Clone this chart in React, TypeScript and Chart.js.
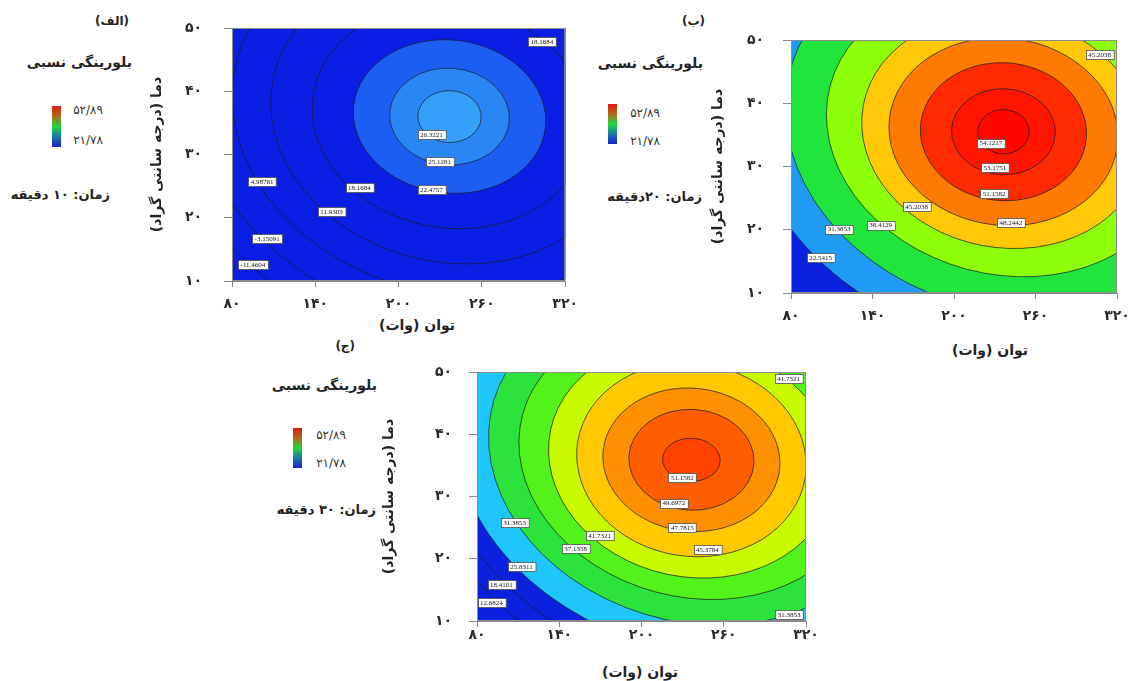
import React, { useEffect, useRef } from 'react';
import { Chart, registerables } from 'chart.js';

Chart.register(...registerables);

// ---------- shared axis data ----------
const POWER_TICKS = [80, 140, 200, 260, 320];
const POWER_LABELS = ['۸۰', '۱۴۰', '۲۰۰', '۲۶۰', '۳۲۰'];
const TEMP_TICKS = [10, 20, 30, 40, 50];
const TEMP_LABELS = ['۱۰', '۲۰', '۳۰', '۴۰', '۵۰'];
const COLORBAR_MAX = '۵۲/۸۹';
const COLORBAR_MIN = '۲۱/۷۸';
const X_TITLE = 'توان (وات)';
const Y_TITLE = 'دما (درجه سانتی گراد)';
const LEGEND_TITLE = 'بلورینگی نسبی';

// ---------- panel A (10 min) ----------
const A_CENTER_POWER = 236.7;
const A_CENTER_TEMP = 36.0;
const A_LEVELS = [-11.4604, -3.15091, 4.98761, 11.9303, 18.1684, 22.4757, 25.1281, 26.3221];
const A_SEMI_POWER = [212, 187, 158.5, 130, 99.5, 69.5, 43.2, 22.8];
const A_SEMI_TEMP = [36.9, 32.6, 27.8, 23.0, 17.6, 12.1, 7.65, 4.1];
const A_TILT = [19, 17, 15, 13, 10, 7, 4, 2];
const A_LABEL_POWER = [303.2, 223.7, 229.6, 223.7, 171.8, 151.7, 101.7, 105.3, 95.1];
const A_LABEL_TEMP = [47.8, 33.2, 28.9, 24.4, 24.8, 21.0, 25.7, 16.75, 12.6];
const A_LABEL_TEXT = ['18.1684', '26.3221', '25.1281', '22.4757', '18.1684', '11.9303', '4.98761', '-3.15091', '-11.4604'];

// ---------- panel B (20 min) ----------
const B_CENTER_POWER = 236.4;
const B_CENTER_TEMP = 35.5;
const B_LEVELS = [22.5415, 31.3853, 38.4129, 45.2038, 48.2442, 51.1582, 53.1751, 54.1217];
const B_SEMI_POWER = [195.5, 163.5, 132.0, 105.0, 84.5, 61.2, 38.2, 18.9];
const B_SEMI_TEMP = [33.3, 28.0, 22.5, 18.3, 14.8, 10.9, 6.8, 3.5];
const B_TILT = [20, 18, 15, 11, 7, 4, 2, 1];
const B_LABEL_POWER = [307.2, 227.1, 230.0, 229.5, 241.8, 172.4, 146.0, 115.5, 101.8];
const B_LABEL_TEMP = [47.7, 33.7, 29.8, 25.7, 21.2, 23.6, 20.75, 20.1, 15.6];
const B_LABEL_TEXT = ['45.2038', '54.1217', '53.1751', '51.1582', '48.2442', '45.2038', '38.4129', '31.3853', '22.5415'];

// ---------- panel C (30 min) ----------
const C_CENTER_POWER = 236.4;
const C_CENTER_TEMP = 35.9;
const C_LEVELS = [12.6824, 18.4101, 25.8311, 31.3853, 37.1358, 41.7321, 45.3784, 47.7815, 49.6972, 51.1582];
const C_SEMI_POWER = [211.6, 194.0, 176.8, 150.5, 127.5, 105.0, 84.0, 64.7, 45.7, 21.0];
const C_SEMI_TEMP = [36.4, 33.4, 30.3, 25.9, 22.0, 18.8, 15.5, 11.5, 8.1, 3.45];
const C_TILT = [21, 20, 19, 17, 15, 12, 9, 6, 3, 2];
const C_LABEL_POWER = [307.3, 229.8, 223.7, 229.8, 248.1, 169.5, 152.0, 107.5, 112.4, 97.8, 90.5, 307.6];
const C_LABEL_TEMP = [48.9, 33.1, 28.95, 25.0, 21.45, 23.75, 21.6, 25.8, 18.8, 15.8, 12.9, 11.0];
const C_LABEL_TEXT = ['41.7321', '51.1582', '49.6972', '47.7815', '45.3784', '41.7321', '37.1358', '31.3853', '25.8311', '18.4101', '12.6824', '31.3853'];

// ---------- styles ----------
const A_BASE = '#0b1fe4';
const A_BANDS = ['#0b1fe4', '#0b1fe4', '#0b1fe4', '#0b1fe4', '#0b1fe4', '#1c5ef2', '#2a86f4', '#34a0f7'];
const B_BASE = '#0a22de';
const B_BANDS = ['#1f9af5', '#21e53c', '#8dff0a', '#ffc806', '#ff7a00', '#ff2a00', '#ff1500', '#ff0800'];
const C_BASE = '#0a22dd';
const C_BANDS = ['#0a22dd', '#0a22dd', '#1ec6fb', '#2be33a', '#52f21a', '#c8fa00', '#ffc800', '#ff9000', '#ff5e00', '#ff4200'];

const FONT = '"DejaVu Sans", sans-serif';

type Panel = {
  id: string;
  centerPower: number;
  centerTemp: number;
  levels: number[];
  semiPower: number[];
  semiTemp: number[];
  tilt: number[];
  base: string;
  bands: string[];
  labelPower: number[];
  labelTemp: number[];
  labelText: string[];
  frame: { left: number; top: number; right: number; bottom: number };
  padRight: number;
  yWidth: number;
  xHeight: number;
  yTickPad: number;
  xTickPad: number;
  yTitlePad: number;
};

const PANELS: Panel[] = [
  {
    id: 'a', centerPower: A_CENTER_POWER, centerTemp: A_CENTER_TEMP, levels: A_LEVELS,
    semiPower: A_SEMI_POWER, semiTemp: A_SEMI_TEMP, tilt: A_TILT, base: A_BASE, bands: A_BANDS,
    labelPower: A_LABEL_POWER, labelTemp: A_LABEL_TEMP, labelText: A_LABEL_TEXT,
    frame: { left: 232, top: 28, right: 571, bottom: 281 }, padRight: 16,
    yWidth: 92, xHeight: 55, yTickPad: 22, xTickPad: 9, yTitlePad: 8.6,
  },
  {
    id: 'b', centerPower: B_CENTER_POWER, centerTemp: B_CENTER_TEMP, levels: B_LEVELS,
    semiPower: B_SEMI_POWER, semiTemp: B_SEMI_TEMP, tilt: B_TILT, base: B_BASE, bands: B_BANDS,
    labelPower: B_LABEL_POWER, labelTemp: B_LABEL_TEMP, labelText: B_LABEL_TEXT,
    frame: { left: 791, top: 40, right: 1117, bottom: 293 }, padRight: 26,
    yWidth: 91, xHeight: 70, yTickPad: 19, xTickPad: 9, yTitlePad: 9.6,
  },
  {
    id: 'c', centerPower: C_CENTER_POWER, centerTemp: C_CENTER_TEMP, levels: C_LEVELS,
    semiPower: C_SEMI_POWER, semiTemp: C_SEMI_TEMP, tilt: C_TILT, base: C_BASE, bands: C_BANDS,
    labelPower: C_LABEL_POWER, labelTemp: C_LABEL_TEMP, labelText: C_LABEL_TEXT,
    frame: { left: 477, top: 372, right: 806, bottom: 621 }, padRight: 16,
    yWidth: 105, xHeight: 60, yTickPad: 17, xTickPad: 0, yTitlePad: 8.6,
  },
];

function contourPlugin(p: Panel) {
  return {
    id: 'contour_' + p.id,
    beforeDatasetsDraw(chart: any) {
      const { ctx, chartArea: a } = chart;
      const xs = chart.scales.x;
      const ys = chart.scales.y;
      const w = a.right - a.left;
      const h = a.bottom - a.top;
      ctx.save();
      ctx.beginPath();
      ctx.rect(a.left, a.top, w, h);
      ctx.clip();
      ctx.fillStyle = p.base;
      ctx.fillRect(a.left, a.top, w, h);
      const cx = xs.getPixelForValue(p.centerPower);
      const cy = ys.getPixelForValue(p.centerTemp);
      p.levels.forEach((_lv, i) => {
        const rx = Math.abs(xs.getPixelForValue(p.centerPower + p.semiPower[i]) - cx);
        const ry = Math.abs(ys.getPixelForValue(p.centerTemp + p.semiTemp[i]) - cy);
        ctx.beginPath();
        ctx.ellipse(cx, cy, rx, ry, (p.tilt[i] * Math.PI) / 180, 0, Math.PI * 2);
        ctx.fillStyle = p.bands[i];
        ctx.fill();
        ctx.lineWidth = 0.9;
        ctx.strokeStyle = 'rgba(25,25,40,0.8)';
        ctx.stroke();
      });
      ctx.restore();
      ctx.save();
      ctx.strokeStyle = '#8c8c8c';
      ctx.lineWidth = 1;
      ctx.strokeRect(a.left + 0.5, a.top + 0.5, w - 1, h - 1);
      ctx.restore();
    },
    afterDatasetsDraw(chart: any) {
      const { ctx } = chart;
      const meta = chart.getDatasetMeta(0);
      ctx.save();
      ctx.font = '7px "Liberation Serif", serif';
      ctx.textAlign = 'center';
      ctx.textBaseline = 'middle';
      meta.data.forEach((pt: any, i: number) => {
        const t = p.labelText[i];
        const bw = ctx.measureText(t).width + 5;
        const bh = 9;
        const x0 = Math.round(pt.x - bw / 2) + 0.5;
        const y0 = Math.round(pt.y - bh / 2) + 0.5;
        ctx.fillStyle = '#ffffff';
        ctx.fillRect(x0, y0, bw, bh);
        ctx.strokeStyle = '#505050';
        ctx.lineWidth = 0.8;
        ctx.strokeRect(x0, y0, bw, bh);
        ctx.fillStyle = '#111111';
        ctx.fillText(t, pt.x, pt.y + 0.5);
      });
      ctx.restore();
    },
  };
}

function ContourPanel({ p }: { p: Panel }) {
  const ref = useRef<HTMLCanvasElement | null>(null);
  const padTop = p.yTickPad + 11;
  const left = p.frame.left - p.yWidth;
  const top = p.frame.top - padTop;
  const width = p.yWidth + (p.frame.right - p.frame.left) + p.padRight;
  const height = padTop + (p.frame.bottom - p.frame.top) + p.xHeight;
  useEffect(() => {
    if (!ref.current) return;
    const tickFont = { family: FONT, size: 14, weight: 'bold' as const };
    const chart = new Chart(ref.current, {
      type: 'scatter',
      data: {
        datasets: [
          {
            data: p.labelPower.map((x, i) => ({ x, y: p.labelTemp[i] })),
            pointRadius: 0,
            pointHoverRadius: 0,
            showLine: false,
          },
        ],
      },
      options: {
        responsive: false,
        animation: false,
        devicePixelRatio: 1,
        events: [],
        layout: { padding: { top: padTop, right: p.padRight, left: 0, bottom: 0 } },
        plugins: { legend: { display: false }, tooltip: { enabled: false } },
        scales: {
          x: {
            type: 'linear',
            min: 80,
            max: 320,
            afterBuildTicks: (s: any) => {
              s.ticks = POWER_TICKS.map((v) => ({ value: v }));
            },
            afterFit: (s: any) => {
              s.height = p.xHeight;
            },
            ticks: {
              autoSkip: false,
              maxRotation: 0,
              padding: p.xTickPad,
              color: '#2a2a2a',
              font: tickFont,
              callback: (v: any) => POWER_LABELS[POWER_TICKS.indexOf(Number(v))] ?? '',
            },
            grid: { drawOnChartArea: false, drawTicks: true, tickLength: 6, color: '#8a8a8a' },
            border: { display: true, color: '#8a8a8a' },
            title: { display: false },
          },
          y: {
            type: 'linear',
            min: 10,
            max: 50,
            afterBuildTicks: (s: any) => {
              s.ticks = TEMP_TICKS.map((v) => ({ value: v }));
            },
            afterFit: (s: any) => {
              s.width = p.yWidth;
            },
            ticks: {
              autoSkip: false,
              padding: p.yTickPad,
              color: '#2a2a2a',
              font: tickFont,
              callback: (v: any) => TEMP_LABELS[TEMP_TICKS.indexOf(Number(v))] ?? '',
            },
            grid: { drawOnChartArea: false, drawTicks: true, tickLength: 8, color: '#8a8a8a' },
            border: { display: true, color: '#8a8a8a' },
            title: {
              display: true,
              text: '\u200F' + Y_TITLE + '\u200F',
              color: '#222',
              font: { family: FONT, size: 14, weight: 'bold' },
              padding: { top: p.yTitlePad, bottom: 0 },
            },
          },
        },
      },
      plugins: [contourPlugin(p)],
    });
    return () => chart.destroy();
  }, [p]);
  return (
    <canvas
      ref={ref}
      width={width}
      height={height}
      style={{ position: 'absolute', left, top, width, height }}
    />
  );
}

type Legend = {
  tag: string;
  tagRight: number;
  tagY: number;
  titleRight: number;
  titleY: number;
  barLeft: number;
  barTop: number;
  barHeight: number;
  numRight: number;
  maxY: number;
  minY: number;
  time: string;
  timeRight: number;
  timeY: number;
  xTitleX: number;
  xTitleY: number;
};

const LEGENDS: Legend[] = [
  {
    tag: '(الف)', tagRight: 129, tagY: 21, titleRight: 132, titleY: 62,
    barLeft: 52, barTop: 106, barHeight: 41, numRight: 103, maxY: 110, minY: 140,
    time: 'زمان: ۱۰ دقیقه', timeRight: 110, timeY: 195, xTitleX: 417, xTitleY: 325,
  },
  {
    tag: '(ب)', tagRight: 705, tagY: 21, titleRight: 703, titleY: 63,
    barLeft: 608, barTop: 104, barHeight: 40, numRight: 660, maxY: 113, minY: 141,
    time: 'زمان: ۲۰دقیقه', timeRight: 702, timeY: 197, xTitleX: 990, xTitleY: 350,
  },
  {
    tag: '(ج)', tagRight: 355, tagY: 346, titleRight: 377, titleY: 385,
    barLeft: 293, barTop: 428, barHeight: 40, numRight: 346, maxY: 435, minY: 463,
    time: 'زمان: ۳۰ دقیقه', timeRight: 376, timeY: 510, xTitleX: 640, xTitleY: 672,
  },
];

function rtlText(text: string, right: number, cy: number, size: number, lh = 22) {
  return (
    <div
      dir="rtl"
      style={{
        position: 'absolute',
        right: 1144 - right,
        top: cy - lh / 2,
        height: lh,
        lineHeight: lh + 'px',
        fontSize: size,
        fontWeight: 'bold',
        fontFamily: FONT,
        color: '#222',
        whiteSpace: 'nowrap',
      }}
    >
      {text}
    </div>
  );
}

function LegendBlock({ l }: { l: Legend }) {
  return (
    <>
      {rtlText(l.tag, l.tagRight, l.tagY, 12)}
      {rtlText(LEGEND_TITLE, l.titleRight, l.titleY, 14)}
      <div
        style={{
          position: 'absolute',
          left: l.barLeft,
          top: l.barTop,
          width: 9,
          height: l.barHeight,
          background: 'linear-gradient(to bottom, #e01a14 0%, #b06a18 25%, #22d83a 50%, #1a78a8 75%, #1424c8 100%)',
        }}
      />
      <div style={{ position: 'absolute', right: 1144 - l.numRight, top: l.maxY - 8, lineHeight: '16px', fontSize: 12, fontFamily: FONT, color: '#333' }}>
        {COLORBAR_MAX}
      </div>
      <div style={{ position: 'absolute', right: 1144 - l.numRight, top: l.minY - 8, lineHeight: '16px', fontSize: 12, fontFamily: FONT, color: '#333' }}>
        {COLORBAR_MIN}
      </div>
      {rtlText(l.time, l.timeRight, l.timeY, 13)}
      <div
        dir="rtl"
        style={{
          position: 'absolute',
          left: l.xTitleX - 100,
          width: 200,
          top: l.xTitleY - 11,
          lineHeight: '22px',
          textAlign: 'center',
          fontSize: 14,
          fontWeight: 'bold',
          fontFamily: FONT,
          color: '#222',
        }}
      >
        {X_TITLE}
      </div>
    </>
  );
}

export default function App() {
  return (
    <div style={{ position: 'absolute', left: 0, top: 0, width: 1144, height: 681, background: '#ffffff', overflow: 'hidden' }}>
      {LEGENDS.map((l, i) => (
        <LegendBlock key={i} l={l} />
      ))}
      {PANELS.map((p) => (
        <ContourPanel key={p.id} p={p} />
      ))}
    </div>
  );
}
